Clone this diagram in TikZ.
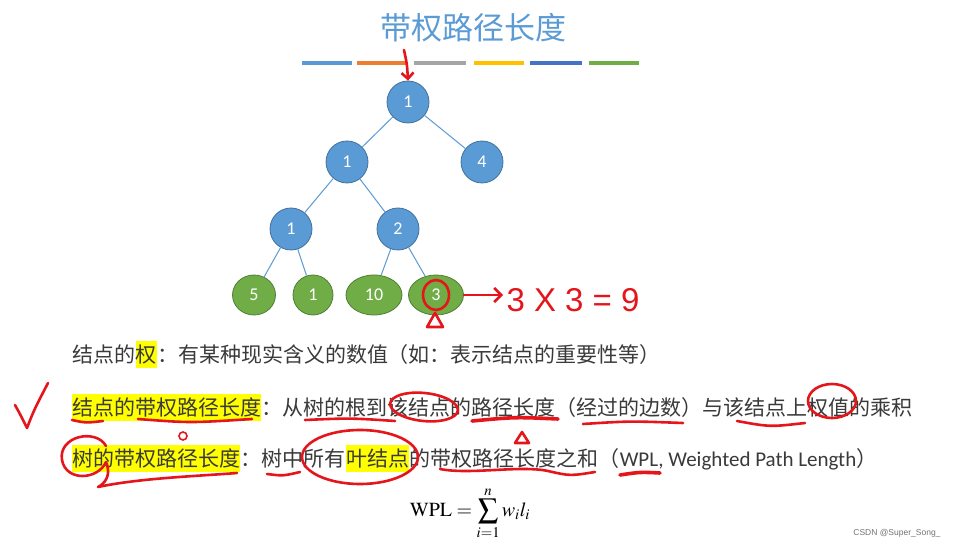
\documentclass[tikz,border=0pt]{standalone}
\usepackage{mathptmx}
\usepackage{fontspec}
\usepackage{tikz}
\usetikzlibrary{
  arrows.meta,
  positioning,
  shapes.geometric,
}
\newfontfamily\cjk{Noto Sans CJK SC}
\newfontfamily\latinsans{Carlito}
\newfontfamily\plainsans{Liberation Sans}
\definecolor{titleblue}{HTML}{5B9BD5}
\definecolor{nodeblue}{HTML}{5B9BD5}
\definecolor{nodeedge}{HTML}{41719C}
\definecolor{leafgreen}{HTML}{70AD47}
\definecolor{leafedge}{HTML}{507E32}
\definecolor{textgray}{HTML}{3A3A3A}
\definecolor{hlyellow}{HTML}{FFFF00}
\definecolor{penred}{HTML}{E4151B}
\definecolor{barA}{HTML}{5B9BD5}
\definecolor{barB}{HTML}{ED7D31}
\definecolor{barC}{HTML}{A5A5A5}
\definecolor{barD}{HTML}{FFC000}
\definecolor{barE}{HTML}{4472C4}
\definecolor{barF}{HTML}{70AD47}

\begin{document}
\begin{tikzpicture}[
    x=1pt, y=-1pt,
    inner/.style={circle, fill=nodeblue, draw=nodeedge, line width=0.8pt,
                  minimum size=42pt, inner sep=0pt, text=white,
                  font=\latinsans\fontsize{18}{20}\selectfont},
    leaf/.style={ellipse, fill=leafgreen, draw=leafedge, line width=0.8pt,
                 minimum height=40pt, inner sep=0pt, text=white,
                 font=\latinsans\fontsize{18}{20}\selectfont},
    branch/.style={draw=nodeblue, line width=1pt},
    seg/.style={inner xsep=0pt, inner ysep=3pt, text height=18pt,
                text depth=3pt, text=textgray,
                font=\cjk\fontsize{21}{24}\selectfont},
    hl/.style={seg, fill=hlyellow},
    latin/.style={seg, font=\latinsans\fontsize{21}{24}\selectfont},
    pen/.style={draw=penred, line width=2.6pt, line cap=round,
                line join=round},
  ]
  \useasboundingbox[fill=white] (0,0) rectangle (959,548);

  % title and colour bars
  \node[font=\cjk\fontsize{31}{34}\selectfont, text=titleblue] (title)
    at (473,28) {带权路径长度};
  \foreach \xa/\xb/\col in {302/352/barA, 357/406/barB, 414/466/barC,
                            474/524/barD, 530/582/barE, 589/639/barF}
    \fill[\col] (\xa,61) rectangle (\xb,65);

  % the tree
  \node[inner] (r) at (408,102) {1};
  \node[inner] (a) at (347,162) {1};
  \node[inner] (b) at (482,162) {4};
  \node[inner] (c) at (291,229) {1};
  \node[inner] (d) at (398,229) {2};
  \node[leaf, minimum width=43pt] (l1) at (254,295) {5};
  \node[leaf, minimum width=40pt] (l2) at (313,295) {1};
  \node[leaf, minimum width=56pt] (l3) at (374,295) {10};
  \node[leaf, minimum width=55pt] (l4) at (436,295) {3};

  \draw[branch] (r) -- (a);
  \draw[branch] (r) -- (b);
  \draw[branch] (a) -- (c);
  \draw[branch] (a) -- (d);
  \draw[branch] (c) -- (l1);
  \draw[branch] (c) -- (l2);
  \draw[branch] (d) -- (l3);
  \draw[branch] (d) -- (l4);

  % text lines
  \node[seg, anchor=base west] (wa) at (72,362) {结点的};
  \node[hl, right=0pt of wa] (wb) {权};
  \node[seg, right=0pt of wb] (wc) {：有某种现实含义的数值（如：表示结点的重要性等）};

  \node[hl, anchor=base west] (pa) at (72,415) {结点的带权路径长度};
  \node[seg, right=0pt of pa] (pb) {：从树的根到该结点的路径长度（经过的边数）与该结点上权值的乘积};

  \node[hl, anchor=base west] (qa) at (72,466) {树的带权路径长度};
  \node[seg, right=0pt of qa] (qb) {：树中所有};
  \node[hl, right=0pt of qb] (qc) {叶结点};
  \node[seg, right=0pt of qc] (qd) {的带权路径长度之和（};
  \node[latin, right=0pt of qd] (qe) {WPL, Weighted Path Length};
  \node[seg, right=0pt of qe] (qf) {）};

  \node[font=\fontsize{20}{24}\selectfont, text=black, inner sep=0pt]
    (wpl) at (470,513) {$\mathrm{WPL}=\displaystyle\sum_{i=1}^{n} w_i l_i$};

  \node[font=\plainsans\fontsize{8.5}{10}\selectfont, text=black!55,
        anchor=east] (wmark) at (944,533) {CSDN @Super\_Song\_};

  % red pen marks
  \coordinate (pentop) at (404,50);
  \draw[pen, -{Straight Barb[length=6pt,width=12pt]}]
    (pentop) .. controls (407,64) .. (r.north);
  \draw[pen] (l4.center) ellipse [x radius=13pt, y radius=15pt];
  \draw[pen] (427,327) -- (435,313) -- (443,327) -- cycle;
  \node[font=\plainsans\fontsize{33}{38}\selectfont, text=penred,
        anchor=west] (calc) at (503,300) {3 X 3 = 9};
  \draw[pen, -{Straight Barb[length=7pt,width=14pt]}]
    (l4.east) -- (l4.east -| calc.west);

  \draw[pen] (15,405) .. controls (20,414) .. (27,428)
    .. controls (34,410) .. (48,383);
  \draw[pen] (72,420) .. controls (86,423) .. (103,421);
  \draw[pen] (138,419) .. controls (190,423) .. (252,419);
  \draw[draw=penred, line width=1.6pt] (183,436) circle [radius=4pt];
  \draw[pen] (305,420) .. controls (350,418) .. (395,421);
  \draw[pen, rotate around={-6:(424,407)}] (424,407)
    ellipse [x radius=34pt, y radius=14pt];
  \draw[pen, line width=3.6pt] (472,421) .. controls (515,417) .. (558,419);
  \draw[pen] (515,443) -- (522,432) -- (529,443) -- cycle;
  \draw[pen] (583,424) .. controls (630,421) .. (683,423);
  \draw[pen] (737,421) .. controls (770,427) .. (805,423);
  \draw[pen] (832,401) ellipse [x radius=24pt, y radius=17pt];

  \draw[pen] (106,446) .. controls (96,428) and (58,436) .. (62,460)
    .. controls (66,482) and (98,480) .. (106,462)
    .. controls (112,476) and (104,484) .. (98,487)
    .. controls (140,478) and (200,476) .. (237,473);
  \draw[pen] (267,474) .. controls (283,476) .. (300,472);
  \draw[pen] (360,457) ellipse [x radius=58pt, y radius=27pt];
  \draw[pen] (440,469) .. controls (470,475) and (520,465) .. (548,471)
    .. controls (570,476) .. (595,472);
  \draw[pen, line width=3.6pt] (620,475) .. controls (640,472) .. (660,473);
\end{tikzpicture}
\end{document}
